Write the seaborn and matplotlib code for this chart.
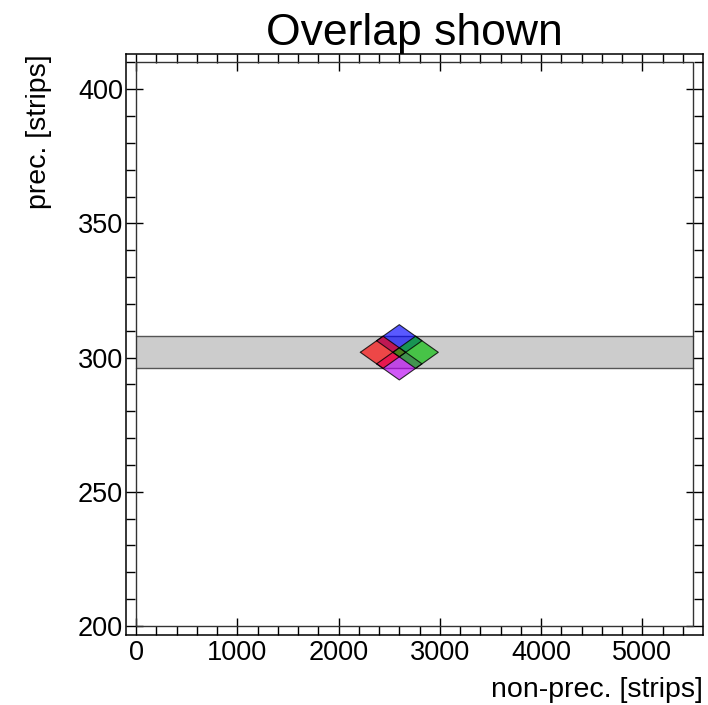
import numpy as np
import pandas as pd
import matplotlib
matplotlib.use("Agg")
import matplotlib.pyplot as plt
from matplotlib.ticker import MultipleLocator
from matplotlib.patches import Rectangle
import seaborn as sns

# ---- data ----
title = "Overlap shown"
x_label = "non-prec. [strips]"
y_label = "prec. [strips]"
x_range = [0, 5500]
y_range = [200, 410]
x_ticks = [0, 1000, 2000, 3000, 4000, 5000]
y_ticks = [200, 250, 300, 350, 400]
band_x = [0, 5500]
band_low = [296, 296]
band_high = [308, 308]
diamond_names = ["blue", "magenta", "red", "green"]
diamond_cx = [2600, 2600, 2439, 2761]
diamond_cy = [306.3, 297.7, 302.0, 302.0]
diamond_hw = [224, 224, 224, 224]
diamond_hh = [6.0, 6.0, 6.0, 6.0]
diamond_colors = [(0.0, 0.0, 1.0), (0.72, 0.0, 0.95), (1.0, 0.0, 0.0), (0.0, 0.75, 0.0)]

sns.set_theme(style="white")
plt.rcParams["font.family"] = ["Liberation Sans", "DejaVu Sans"]
plt.rcParams["text.color"] = "black"
plt.rcParams["axes.labelcolor"] = "black"
plt.rcParams["xtick.color"] = "black"
plt.rcParams["ytick.color"] = "black"

W, H = 708, 705
fig = plt.figure(figsize=(W / 100, H / 100), dpi=100)
# outer frame in pixels
L, R, T, B = 126, 703, 54, 635
ax = fig.add_axes([L / W, (H - B) / H, (R - L) / W, (B - T) / H])

# inner frame pixels -> extend limits so that inner frame sits at data range
iL, iR, iT, iB = 136, 693, 62.5, 626
xs = (x_range[1] - x_range[0]) / (iR - iL)
ys = (y_range[1] - y_range[0]) / (iB - iT)
ax.set_xlim(x_range[0] - (iL - L) * xs, x_range[1] + (R - iR) * xs)
ax.set_ylim(y_range[0] - (B - iB) * ys, y_range[1] + (iT - T) * ys)

# grey band
band = pd.DataFrame({"x": band_x, "low": band_low, "high": band_high})
ax.fill_between(band["x"], band["low"], band["high"], color="#cccccc", zorder=1, lw=0)
sns.lineplot(data=band, x="x", y="low", ax=ax, color="#555555", lw=1.0, zorder=2)
sns.lineplot(data=band, x="x", y="high", ax=ax, color="#555555", lw=1.0, zorder=2)

# diamonds
for cx, cy, hw, hh, col in zip(diamond_cx, diamond_cy, diamond_hw, diamond_hh, diamond_colors):
    xs_d = [cx - hw, cx, cx + hw, cx, cx - hw]
    ys_d = [cy, cy + hh, cy, cy - hh, cy]
    ax.fill(xs_d, ys_d, facecolor=col, alpha=0.65, edgecolor="none", zorder=3)
    ax.plot(xs_d, ys_d, color="black", lw=0.8, alpha=0.8, zorder=4)

# inner frame
ax.add_patch(Rectangle((x_range[0], y_range[0]), x_range[1] - x_range[0],
                       y_range[1] - y_range[0], fill=False, edgecolor="#333333",
                       lw=1.0, zorder=5))

for s in ax.spines.values():
    s.set_visible(True)
    s.set_color("black")
    s.set_linewidth(1.1)

ax.set_xticks(x_ticks)
ax.set_yticks(y_ticks)
ax.xaxis.set_minor_locator(MultipleLocator(200))
ax.yaxis.set_minor_locator(MultipleLocator(10))
ax.tick_params(which="both", direction="in", top=True, right=True, bottom=True, left=True,
               color="black", width=1.0)
ax.tick_params(which="major", length=12.2, labelsize=19.5)
ax.tick_params(which="minor", length=6.8)
ax.tick_params(axis="x", which="major", pad=3.5)
ax.tick_params(axis="y", which="major", pad=2)
ax.grid(False)

ax.set_xlabel(x_label, loc="right", fontsize=20.5, labelpad=8)
ax.set_ylabel(y_label, loc="top", fontsize=20.5, labelpad=19)
ax.set_title(title, fontsize=32, pad=6)

fig.savefig("out.png", dpi=100)
